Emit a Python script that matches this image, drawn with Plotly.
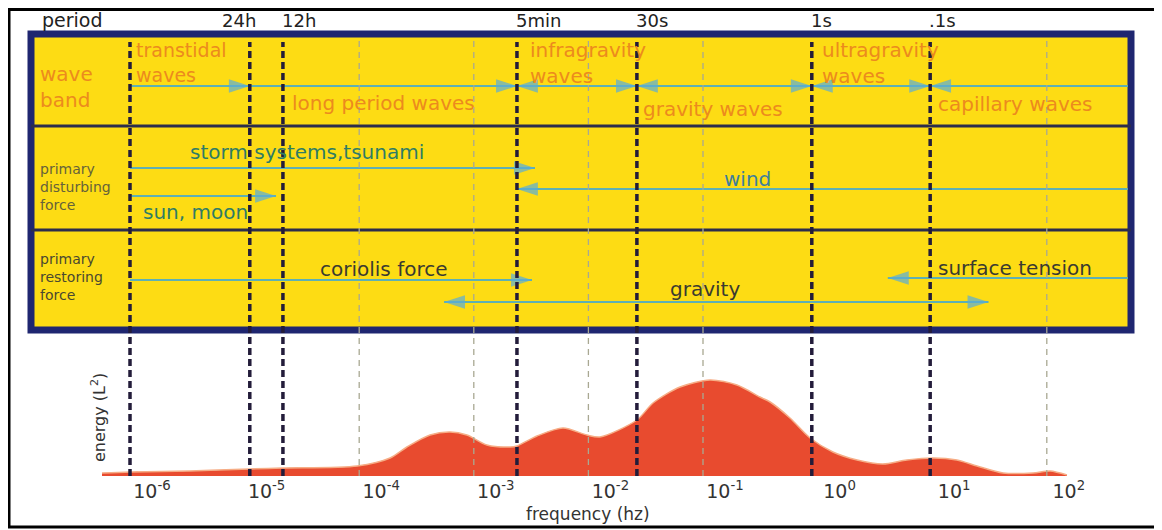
import math
import plotly.graph_objects as go

# the page sits 8px in from the window corner, so all pixel positions
# below are given in reference-image space and shifted by OFF
OFF = 8
W, H = 1162 - OFF, 530 - OFF
BASE = 476  # pixel row of the spectrum baseline (reference space)

# energy spectrum (arbitrary units)
energy_freq = [5.7e-7, 1.0e-6, 3.3e-6, 1.11e-5, 2.16e-5, 9.6e-5, 1.86e-4, 2.61e-4, 4.15e-4,
               6.2e-4, 8.7e-4, 1.30e-3, 2.07e-3, 2.38e-3, 3.56e-3, 6.0e-3, 9.7e-3, 1.26e-2,
               2.65e-2, 3.66e-2, 6.3e-2, 0.115, 0.198, 0.314, 0.385, 0.574, 0.86, 1.36,
               2.21, 3.72, 6.0, 10.2, 16.4, 24.6, 41.5, 75.9, 107, 150]
energy = [3, 4, 5, 7, 8, 10, 18, 29, 41,
          44, 41, 31, 29, 30, 40, 48, 41, 39,
          56, 73, 89, 96, 91, 79, 74, 58, 38, 24,
          16, 12, 16, 18, 16, 10, 3, 3, 5, 1]

decades = [1e-6, 1e-5, 1e-4, 1e-3, 1e-2, 1e-1, 1e0, 1e1, 1e2]
decade_text = ['10<sup>-6</sup>', '10<sup>-5</sup>', '10<sup>-4</sup>', '10<sup>-3</sup>',
               '10<sup>-2</sup>', '10<sup>-1</sup>', '10<sup>0</sup>', '10<sup>1</sup>',
               '10<sup>2</sup>']
grid_freq = [1e-4, 1e-3, 1e-2, 1e-1, 1e2]

# period boundaries (heavy dashed lines)
bound_freq = [1.0e-6, 1.11e-5, 2.16e-5, 2.38e-3, 2.65e-2, 0.89, 9.6]
period_labels = ['', '24h', '12h', '5min', '30s', '1s', '.1s']
edge_freq = 510  # right edge of the panel

# arrows: start, end, two heads?
band_arrows = [(1.0e-6, 1.11e-5, False), (1.11e-5, 2.38e-3, False), (2.38e-3, 2.65e-2, True),
               (2.65e-2, 0.89, True), (0.89, 9.6, True), (edge_freq, 9.6, False)]
storm_arrow = (1.0e-6, 3.42e-3, False)
wind_arrow = (edge_freq, 2.38e-3, False)
sunmoon_arrow = (1.0e-6, 1.88e-5, False)
coriolis_arrow = (1.0e-6, 3.22e-3, False)
gravity_arrow = (5.5e-4, 31.0, True)
tension_arrow = (edge_freq, 4.1, False)

FONT = 'DejaVu Sans'
YELLOW = '#fddc14'
NAVY = '#1f2670'
ARROW = '#5eb0b4'
ARROW_HEAD = '#58acd8'
ORANGE = '#ec8a1e'
TEAL = '#2f7c66'
OLIVE = '#66623a'


def px(x):
    return (x - OFF) / W


def py(y):
    return (BASE - y) / (BASE - OFF)


def add_arrow(fig, arrow, row):
    f0, f1, both = arrow
    right = 90 if f1 > f0 else -90
    fig.add_trace(go.Scatter(
        x=[f0, f1], y=[row, row], yaxis='y2', mode='lines+markers',
        line=dict(color=ARROW, width=2),
        marker=dict(symbol='arrow', size=[22 if both else 0, 22], angle=[-right, right],
                    color=ARROW_HEAD, line_width=0),
        hoverinfo='skip', showlegend=False, cliponaxis=False
    ))


def label(fig, text, x, y, size=20, color='#333', anchor='left'):
    fig.add_annotation(text=text, x=px(x), y=py(y), xref='paper', yref='paper',
                       xanchor=anchor, yanchor='middle', align='left', showarrow=False,
                       font=dict(family=FONT, size=size, color=color))


fig = go.Figure()

fig.add_trace(go.Scatter(
    x=energy_freq, y=energy, mode='lines', fill='tozeroy',
    line=dict(color='#f6ad86', width=1.5, shape='spline', smoothing=0.8),
    fillcolor='#e84b2f', hoverinfo='skip', showlegend=False
))

# outer frame
fig.add_shape(type='rect', xref='paper', yref='paper', x0=px(9), x1=px(1156), y0=py(527), y1=py(9.5),
              line=dict(color='black', width=3), fillcolor='white', layer='below')
# yellow panel with its three rows
fig.add_shape(type='rect', xref='paper', yref='paper', x0=px(31), x1=px(1131), y0=py(330), y1=py(34),
              line=dict(color=NAVY, width=7), fillcolor=YELLOW, layer='below')
for yrow in [126, 230]:
    fig.add_shape(type='line', xref='paper', yref='paper', x0=px(31), x1=px(1131), y0=py(yrow), y1=py(yrow),
                  line=dict(color='#2c2d4c', width=3))

for f in grid_freq:
    fig.add_shape(type='line', xref='x', yref='paper', x0=f, x1=f, y0=0, y1=py(37),
                  line=dict(color='#a9a892', width=1.3, dash='6px,5px'))
for f in bound_freq:
    fig.add_shape(type='line', xref='x', yref='paper', x0=f, x1=f, y0=0, y1=py(42),
                  line=dict(color='#231c3a', width=3.5, dash='7px,4px'))

for arrow in band_arrows:
    add_arrow(fig, arrow, 86)
add_arrow(fig, storm_arrow, 168)
add_arrow(fig, wind_arrow, 189)
add_arrow(fig, sunmoon_arrow, 196)
add_arrow(fig, coriolis_arrow, 280)
add_arrow(fig, gravity_arrow, 302)
add_arrow(fig, tension_arrow, 278)

# period labels on top of the panel
label(fig, 'period', 40, 20, size=19, color='#222')
for f, txt in zip(bound_freq, period_labels):
    if not txt:
        continue
    fig.add_annotation(text=txt, x=math.log10(f), y=py(20), xref='x', yref='paper',
                       xanchor='right' if txt == '24h' else 'left',
                       xshift=8 if txt == '24h' else -3, yanchor='middle', showarrow=False,
                       font=dict(family=FONT, size=18, color='#222'))

# wave band row
label(fig, 'wave<br>band', 38, 87, color=ORANGE)
label(fig, 'transtidal<br>waves', 134, 62, size=19, color=ORANGE)
label(fig, 'long period waves', 290, 103, color=ORANGE)
label(fig, 'infragravity<br>waves', 528, 63, color=ORANGE)
label(fig, 'gravity waves', 641, 109, color=ORANGE)
label(fig, 'ultragravity<br>waves', 820, 63, color=ORANGE)
label(fig, 'capillary waves', 936, 104, color=ORANGE)

# disturbing force row
label(fig, 'primary<br>disturbing<br>force', 38, 187, size=14, color=OLIVE)
label(fig, 'storm systems,tsunami', 188, 152, color=TEAL)
label(fig, 'sun, moon', 141, 212, color=TEAL)
label(fig, 'wind', 722, 179, color='#3d7f9b')

# restoring force row
label(fig, 'primary<br>restoring<br>force', 38, 277, size=14, color='#4a4830')
label(fig, 'coriolis force', 318, 269, color='#3a3a30')
label(fig, 'gravity', 668, 289, color='#3a3a30')
label(fig, 'surface tension', 936, 268, color='#3a3a30')

# axis titles
fig.add_annotation(text='energy (L<sup>2</sup>)', x=px(98), y=py(418), xref='paper', yref='paper',
                   xanchor='center', yanchor='middle', textangle=-90, showarrow=False,
                   font=dict(family=FONT, size=16, color='#333'))
label(fig, 'frequency (hz)', 588, 514, size=17, anchor='center')

fig.update_layout(
    width=W, height=H, margin=dict(l=0, r=0, t=0, b=H - (BASE - OFF)),
    paper_bgcolor='white', plot_bgcolor='rgba(0,0,0,0)', showlegend=False,
    font=dict(family=FONT, color='#333'),
    xaxis=dict(type='log', range=[-6 + (OFF - 130) / 114.6, -6 + (1162 - 130) / 114.6],
               tickvals=decades, ticktext=decade_text,
               ticks='', showgrid=False, zeroline=False, showline=False,
               ticklabelshift=22, ticklabelstandoff=2, tickfont=dict(size=19, color='#333')),
    yaxis=dict(domain=[0, 136 / (BASE - OFF)], range=[0, 136], visible=False),
    yaxis2=dict(domain=[(BASE - 333) / (BASE - OFF), 1], range=[333, OFF], visible=False, anchor='x'),
)

fig.write_html("out.html")
